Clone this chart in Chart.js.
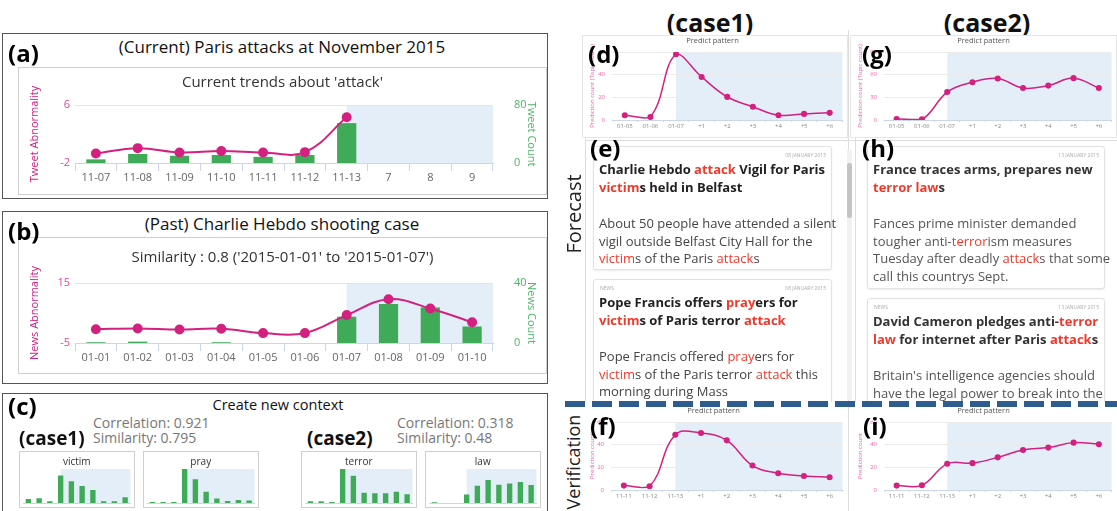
<!DOCTYPE html>
<html lang="en">
<head>
<meta charset="UTF-8">
<title>Context forecast of 'attack'</title>
<script src="https://cdn.jsdelivr.net/npm/chart.js"></script>
<style>
  body { margin:0; width:1117px; height:511px; overflow:hidden; background:#fff; position:relative; font-family:"Open Sans", sans-serif; color:#111; }
  .box { position:absolute; border:1.5px solid #555; box-sizing:border-box; }
  .card { position:absolute; border:1px solid #cfcfcf; box-sizing:border-box; background:#fff; }
  .tag { position:absolute; font-weight:bold; font-size:24px; line-height:1; color:#000; }
  .ttl { position:absolute; transform:translate(-50%,-50%); white-space:nowrap; line-height:1.2; }
  .txt { position:absolute; white-space:nowrap; line-height:1.2; transform:translateY(-50%); }
  .side { position:absolute; transform:translate(-50%,-50%) rotate(-90deg); font-size:20px; white-space:nowrap; color:#222; }
  canvas { position:absolute; }
  .feed { position:absolute; overflow:hidden; }
  .news { position:absolute; border:1px solid #e2e2e2; border-radius:3px; box-shadow:0 1px 2px rgba(0,0,0,0.08); box-sizing:border-box; background:#fff; }
  .news .date { position:absolute; right:5px; top:5px; font-size:5px; color:#aaa; }
  .news .kind { position:absolute; left:6px; top:5px; font-size:5px; color:#aaa; }
  .news .head { position:absolute; left:5px; top:14px; font-size:13px; font-weight:bold; line-height:17.5px; color:#222; white-space:nowrap; }
  .news .body { position:absolute; left:5px; top:68px; font-size:13px; line-height:17.7px; color:#444; white-space:nowrap; }
  .news em { font-style:normal; color:#ee3a2c; }
</style>
</head>
<body>

<!-- (a) current -->
<div class="box" style="left:2px;top:33px;width:546px;height:166px"></div>
<div class="ttl" style="left:282px;top:47px;font-size:17px">(Current) Paris attacks at November 2015</div>
<div class="card" style="left:18px;top:67px;width:529px;height:128px"></div>
<canvas id="chartA" width="529" height="128" style="left:18px;top:67px"></canvas>
<div class="tag" style="left:8px;top:41px">(a)</div>

<!-- (b) past -->
<div class="box" style="left:2px;top:211px;width:546px;height:173px"></div>
<div class="ttl" style="left:282px;top:224px;font-size:17px">(Past) Charlie Hebdo shooting case</div>
<div class="card" style="left:18px;top:237px;width:529px;height:137px"></div>
<canvas id="chartB" width="529" height="137" style="left:18px;top:237px"></canvas>
<div class="tag" style="left:8px;top:219px">(b)</div>

<!-- (c) new context -->
<div class="box" style="left:2px;top:393px;width:546px;height:125px"></div>
<div class="tag" style="left:8px;top:394px">(c)</div>
<div class="ttl" style="left:278px;top:405px;font-size:14.5px">Create new context</div>
<div class="txt" style="left:19px;top:438px;font-size:19px;font-weight:bold">(case1)</div>
<div class="txt" style="left:93px;top:423px;font-size:14px;color:#777">Correlation: 0.921</div>
<div class="txt" style="left:93px;top:438px;font-size:14px;color:#777">Similarity: 0.795</div>
<div class="txt" style="left:307px;top:438px;font-size:19px;font-weight:bold">(case2)</div>
<div class="txt" style="left:397px;top:423px;font-size:14px;color:#777">Correlation: 0.318</div>
<div class="txt" style="left:397px;top:438px;font-size:14px;color:#777">Similarity: 0.48</div>
<div class="card" style="left:19px;top:451px;width:116px;height:57px"></div>
<canvas id="miniVictim" width="116" height="57" style="left:19px;top:451px"></canvas>
<div class="card" style="left:143px;top:451px;width:116px;height:57px"></div>
<canvas id="miniPray" width="116" height="57" style="left:143px;top:451px"></canvas>
<div class="card" style="left:301px;top:451px;width:116px;height:57px"></div>
<canvas id="miniTerror" width="116" height="57" style="left:301px;top:451px"></canvas>
<div class="card" style="left:425px;top:451px;width:116px;height:57px"></div>
<canvas id="miniLaw" width="116" height="57" style="left:425px;top:451px"></canvas>

<!-- right side -->
<div class="ttl" style="left:710px;top:22px;font-size:25px;font-weight:bold">(case1)</div>
<div class="ttl" style="left:987px;top:22px;font-size:25px;font-weight:bold">(case2)</div>
<div style="position:absolute;left:848px;top:30px;width:1px;height:481px;background:#ddd"></div>

<div class="card" style="left:582px;top:35px;width:266px;height:103px;border-color:#e6e6e6"></div>
<canvas id="predictD" width="266" height="103" style="left:582px;top:35px"></canvas>
<div class="tag" style="left:588px;top:42px">(d)</div>
<div class="card" style="left:850px;top:35px;width:267px;height:103px;border-color:#e6e6e6"></div>
<canvas id="predictG" width="267" height="103" style="left:850px;top:35px"></canvas>
<div class="tag" style="left:862px;top:42px">(g)</div>

<div class="side" style="left:573px;top:214px">Forecast</div>
<div class="feed" style="left:585px;top:138px;width:261px;height:264px;border-left:1px solid #ddd"></div>
<div class="feed" style="left:0;top:138px;width:1117px;height:264px">
  <div class="news" style="left:593px;top:8px;width:239px;height:124px">
    <div class="date">08 JANUARY 2015</div>
    <div class="head">Charlie Hebdo <em>attack</em> Vigil for Paris<br><em>victim</em>s held in Belfast</div>
    <div class="body">About 50 people have attended a silent<br>vigil outside Belfast City Hall for the<br><em>victim</em>s of the Paris <em>attack</em>s</div>
  </div>
  <div class="news" style="left:593px;top:141px;width:239px;height:140px">
    <div class="kind">NEWS</div>
    <div class="date">08 JANUARY 2015</div>
    <div class="head">Pope Francis offers <em>pray</em>ers for<br><em>victim</em>s of Paris terror <em>attack</em></div>
    <div class="body">Pope Francis offered <em>pray</em>ers for<br><em>victim</em>s of the Paris terror <em>attack</em> this<br>morning during Mass</div>
  </div>
  <div class="news" style="left:867px;top:8px;width:238px;height:143px">
    <div class="date">13 JANUARY 2015</div>
    <div class="head" style="color:#333">France traces arms, prepares new<br><em>terror law</em>s</div>
    <div class="body" style="color:#555">Fances prime minister demanded<br>tougher anti-<em>terror</em>ism measures<br>Tuesday after deadly <em>attack</em>s that some<br>call this countrys Sept.</div>
  </div>
  <div class="news" style="left:867px;top:160px;width:238px;height:130px">
    <div class="kind">NEWS</div>
    <div class="date">13 JANUARY 2015</div>
    <div class="head" style="color:#333">David Cameron pledges anti-<em>terror</em><br><em>law</em> for internet after Paris <em>attack</em>s</div>
    <div class="body" style="color:#555">Britain's intelligence agencies should<br>have the legal power to break into the</div>
  </div>
</div>
<div style="position:absolute;left:847px;top:150px;width:5px;height:250px;background:#f1f1f1"></div>
<div style="position:absolute;left:847px;top:163px;width:5px;height:55px;background:#c4c4c4;border-radius:2px"></div>
<div style="position:absolute;left:855px;top:138px;width:1px;height:264px;background:#ddd"></div>
<div style="position:absolute;left:585px;top:140px;width:532px;height:1px;background:#ddd"></div>
<div class="tag" style="left:590px;top:136px">(e)</div>
<div class="tag" style="left:862px;top:136px">(h)</div>

<div class="side" style="left:573px;top:462px;font-size:18px">Verification</div>
<canvas id="verifyF" width="266" height="107" style="left:582px;top:404px"></canvas>
<div class="tag" style="left:590px;top:414px">(f)</div>
<canvas id="verifyI" width="267" height="107" style="left:850px;top:404px"></canvas>
<div class="tag" style="left:863px;top:414px">(i)</div>

<div style="position:absolute;left:565px;top:401px;width:552px;height:6px;background:repeating-linear-gradient(to right,#2f5c8e 0 20px,transparent 20px 27px)"></div>

<script>
// (a) current trends about 'attack'
const currentDays = ['11-07', '11-08', '11-09', '11-10', '11-11', '11-12', '11-13', '7', '8', '9'];
const tweetAbnormality = [-0.7, 0.05, -0.55, -0.35, -0.55, -0.5, 4.3, null, null, null];
const tweetCount = [5, 12.5, 10, 11, 8.5, 11, 55, null, null, null];
const tweetAbnTicks = [-2, 6];
const tweetCountTicks = [0, 80];

// (b) past case
const pastDays = ['01-01', '01-02', '01-03', '01-04', '01-05', '01-06', '01-07', '01-08', '01-09', '01-10'];
const newsAbnormality = [-0.4, -0.15, -0.5, -0.25, -1.7, -1.7, 4.3, 9.6, 6.5, 1.9];
const newsCount = [0.5, 0.9, 0, 0.5, 0, 0, 17.5, 26, 23.7, 11];
const newsAbnTicks = [-5, 15];
const newsCountTicks = [0, 40];

// (c) context words
const miniSlots = ['1', '2', '3', '4', '5', '6', '7', '8', '9', '10'];
const victimCounts = [12, 14, 5, 81, 64, 50, 38, 5, 5, 17];
const prayCounts = [3, 3, 3, 100, 70, 33, 13, 6, 9, 7];
const terrorCounts = [5, 5, 3, 100, 80, 30, 29, 29, 33, 26];
const lawCounts = [2, 0, 0, 25, 51, 68, 54, 57, 62, 53];

// (d)(g) forecast, (f)(i) verification
const forecastDays = ['01-05', '01-06', '01-07', '+1', '+2', '+3', '+4', '+5', '+6'];
const case1Forecast = [4.2, 2.7, 58, 38, 20.4, 11.7, 4.2, 5.4, 6.3];
const case2Forecast = [1.4, 0.9, 37, 50, 55, 42.3, 45.5, 55.4, 42.3];
const verifyDays = ['11-11', '11-12', '11-13', '+1', '+2', '+3', '+4', '+5', '+6'];
const case1Verify = [3.9, 3.3, 48.8, 50.3, 43.8, 21.6, 14.8, 12.4, 11.2];
const case2Verify = [3.9, 4.2, 23.1, 23.7, 28.8, 35.3, 37.4, 41.8, 40.4];
const case1Ticks = [0, 20, 40, 60];
const case2Ticks = [0, 30, 60, 90];
const verifyTicks = [0, 20, 40, 60];

const MAG = '#d4207f';
const PINK = '#e968ad';
const GREEN = '#3fab58';
const BAND = '#e4eef8';
const AXIS = '#ccd6eb';

Chart.defaults.font.family = "'Open Sans', sans-serif";
Chart.defaults.animation = false;

// light blue band behind the forecast part
Chart.register({
  id: 'band',
  defaults: { from: null },
  beforeDraw(chart, args, opts) {
    if (opts.from === null) return;
    const a = chart.chartArea;
    const x0 = chart.scales.x.getPixelForValue(opts.from);
    const ctx = chart.ctx;
    ctx.save();
    ctx.fillStyle = BAND;
    ctx.fillRect(x0, a.top, a.right - x0, a.bottom - a.top);
    ctx.restore();
  }
});

function fixedTicks(list) {
  return s => { s.ticks = list.map(v => ({ value: v })); };
}

function trendChart(id, title, labels, abn, counts, abnTicks, cntTicks, names, g) {
  new Chart(document.getElementById(id), {
    type: 'bar',
    data: {
      labels: labels,
      datasets: [
        { type: 'line', data: abn, yAxisID: 'yL', borderColor: MAG, backgroundColor: MAG,
          borderWidth: 2, pointRadius: 4, tension: 0.4, order: 0 },
        { type: 'bar', data: counts, yAxisID: 'yR', backgroundColor: GREEN,
          barPercentage: 0.46, categoryPercentage: 1, order: 1 }
      ]
    },
    options: {
      responsive: false,
      layout: { padding: 0 },
      plugins: {
        legend: { display: false },
        tooltip: { enabled: false },
        title: { display: true, text: title, color: '#333', font: { size: 15, weight: 'normal' },
                 padding: { top: g.tTop, bottom: g.tBot } },
        band: { from: 6 }
      },
      scales: {
        x: {
          grid: { drawOnChartArea: false, color: AXIS, tickLength: 8, offset: true },
          border: { color: AXIS },
          ticks: { color: '#666', font: { size: 11 }, padding: 0, autoSkip: false, maxRotation: 0 },
          afterFit: s => { s.height = g.xh; }
        },
        yL: {
          position: 'left', min: abnTicks[0], max: abnTicks[1], afterBuildTicks: fixedTicks(abnTicks),
          grid: { color: '#e6e6e6', drawTicks: false },
          border: { display: false },
          ticks: { color: '#e0449c', font: { size: 11 }, padding: 5 },
          title: { display: true, text: names[0], color: MAG, font: { size: 11 }, padding: { top: 10, bottom: 0 } },
          afterFit: s => { s.width = 57; }
        },
        yR: {
          position: 'right', min: cntTicks[0], max: cntTicks[1], afterBuildTicks: fixedTicks(cntTicks),
          grid: { display: false },
          border: { display: false },
          ticks: { color: '#4cb565', font: { size: 11 }, padding: 13 },
          title: { display: true, text: names[1], color: '#4cb565', font: { size: 11 }, padding: { top: 9, bottom: 0 } },
          afterFit: s => { s.width = 54; }
        }
      }
    }
  });
}

trendChart('chartA', "Current trends about 'attack'", currentDays, tweetAbnormality, tweetCount,
  tweetAbnTicks, tweetCountTicks, ['Tweet Abnormality', 'Tweet Count'], { tTop: 7, tBot: 13, xh: 32 });
trendChart('chartB', "Similarity : 0.8 ('2015-01-01' to '2015-01-07')", pastDays, newsAbnormality, newsCount,
  newsAbnTicks, newsCountTicks, ['News Abnormality', 'News Count'], { tTop: 12, tBot: 16, xh: 31 });

function miniChart(id, word, values) {
  new Chart(document.getElementById(id), {
    type: 'bar',
    data: { labels: miniSlots, datasets: [{ data: values, backgroundColor: GREEN, barPercentage: 0.5, categoryPercentage: 1 }] },
    options: {
      responsive: false,
      layout: { padding: { left: 4, right: 4.5, top: 0, bottom: 5 } },
      plugins: {
        legend: { display: false },
        tooltip: { enabled: false },
        title: { display: true, text: word, color: '#333', font: { size: 10, weight: 'normal' }, padding: { top: 5, bottom: 1 } },
        band: { from: 3 }
      },
      scales: {
        x: { grid: { display: false }, ticks: { display: false }, border: { color: AXIS }, afterFit: s => { s.height = 0; } },
        y: { display: false, min: 0, max: 100 }
      }
    }
  });
}

miniChart('miniVictim', 'victim', victimCounts);
miniChart('miniPray', 'pray', prayCounts);
miniChart('miniTerror', 'terror', terrorCounts);
miniChart('miniLaw', 'law', lawCounts);

function predictChart(id, labels, values, ticks, yTitle, g) {
  new Chart(document.getElementById(id), {
    type: 'line',
    data: { labels: labels, datasets: [{ data: values, borderColor: MAG, backgroundColor: MAG,
      borderWidth: 1.5, pointRadius: 2.3, tension: 0.4 }] },
    options: {
      responsive: false,
      layout: { padding: { left: 0, right: g.right, top: 0, bottom: 0 } },
      plugins: {
        legend: { display: false },
        tooltip: { enabled: false },
        title: { display: true, text: 'Predict pattern', color: '#555', font: { size: 7.5, weight: 'normal' },
                 padding: { top: g.tTop, bottom: g.tBot } },
        band: { from: 2 }
      },
      scales: {
        x: {
          offset: true,
          grid: { drawOnChartArea: false, color: AXIS, tickLength: 2, offset: true },
          border: { color: AXIS },
          ticks: { color: '#888', font: { size: 6 }, padding: 1, autoSkip: false, maxRotation: 0 },
          afterFit: s => { s.height = g.xh; }
        },
        y: {
          min: ticks[0], max: ticks[ticks.length - 1], afterBuildTicks: fixedTicks(ticks),
          grid: { color: '#ebebeb', drawTicks: false },
          border: { display: false },
          ticks: { color: PINK, font: { size: 6 }, padding: 7 },
          title: { display: true, text: yTitle, color: PINK, font: { size: 6 }, padding: { top: 7, bottom: 0 } },
          afterFit: s => { s.width = g.yw; }
        }
      }
    }
  });
}

predictChart('predictD', forecastDays, case1Forecast, case1Ticks, 'Prediction count (Topic count)',
  { right: 5, tTop: 1.5, tBot: 6.5, xh: 18, yw: 30 });
predictChart('predictG', forecastDays, case2Forecast, case2Ticks, 'Prediction count (Topic count)',
  { right: 0, tTop: 1.5, tBot: 6.5, xh: 18, yw: 34 });
predictChart('verifyF', verifyDays, case1Verify, verifyTicks, 'Prediction count',
  { right: 3, tTop: 2.5, tBot: 6.5, xh: 21, yw: 29 });
predictChart('verifyI', verifyDays, case2Verify, verifyTicks, 'Prediction count',
  { right: 0, tTop: 2.5, tBot: 6.5, xh: 21, yw: 34 });
</script>
</body>
</html>
